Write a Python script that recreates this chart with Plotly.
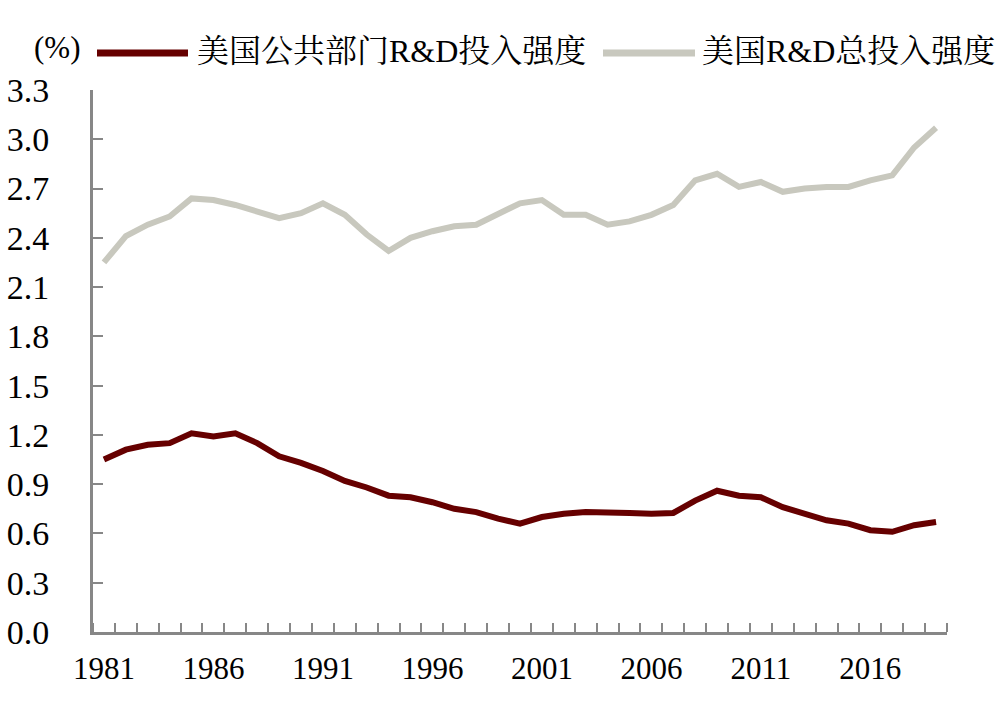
import plotly.graph_objects as go

years = list(range(1981, 2020))
public_rd = [1.05, 1.11, 1.14, 1.15, 1.21, 1.19, 1.21, 1.15, 1.07, 1.03,
             0.98, 0.92, 0.88, 0.83, 0.82, 0.79, 0.75, 0.73, 0.69, 0.66,
             0.70, 0.72, 0.73, 0.73, 0.725, 0.72, 0.725, 0.80, 0.86, 0.83,
             0.82, 0.76, 0.72, 0.68, 0.66, 0.62, 0.61, 0.65, 0.67]
total_rd = [2.25, 2.41, 2.48, 2.53, 2.64, 2.63, 2.60, 2.56, 2.52, 2.55,
            2.61, 2.54, 2.42, 2.32, 2.40, 2.44, 2.47, 2.48, 2.54, 2.61,
            2.63, 2.54, 2.54, 2.48, 2.50, 2.54, 2.60, 2.75, 2.79, 2.71,
            2.74, 2.68, 2.70, 2.71, 2.71, 2.75, 2.78, 2.95, 3.07]
x_labels = [1981, 1986, 1991, 1996, 2001, 2006, 2011, 2016]
y_ticks = [round(0.3 * i, 1) for i in range(12)]

name_public = "美国公共部门R&D投入强度"
name_total = "美国R&D总投入强度"
color_public = "#660000"
color_total = "#C8C8BE"

FONT = "Liberation Serif, Times New Roman, Noto Serif CJK SC, Noto Sans CJK SC, serif"
AXIS_COLOR = "#878787"

fig = go.Figure()
fig.add_trace(go.Scatter(x=years, y=public_rd, mode="lines", name=name_public,
                         line=dict(color=color_public, width=6)))
fig.add_trace(go.Scatter(x=years, y=total_rd, mode="lines", name=name_total,
                         line=dict(color=color_total, width=6)))

fig.update_layout(
    width=999, height=715,
    margin=dict(l=93, r=52, t=90, b=83),
    paper_bgcolor="white", plot_bgcolor="white",
    font=dict(family=FONT, size=31, color="black"),
    showlegend=False,
    xaxis=dict(range=[1980.5, 2019.5], tickmode="array", tickvals=x_labels,
               ticktext=[str(v) for v in x_labels], ticks="", showgrid=False,
               showline=True, linecolor=AXIS_COLOR, linewidth=3, zeroline=False,
               ticklabelstandoff=7, tickfont=dict(size=31), automargin=False,
               minor=dict(tickmode="linear", tick0=1980.5, dtick=1, ticks="inside",
                          ticklen=9, tickwidth=2, tickcolor=AXIS_COLOR, showgrid=False)),
    yaxis=dict(range=[0, 3.3], tickmode="array", tickvals=y_ticks,
               ticktext=[f"{v:.1f}" for v in y_ticks], ticks="inside", ticklen=10,
               tickwidth=2, tickcolor=AXIS_COLOR, showgrid=False, showline=True,
               linecolor=AXIS_COLOR, linewidth=3, zeroline=False,
               ticklabelstandoff=34, tickfont=dict(size=34), automargin=False),
)

# manual legend (paper coordinates of plot area: 854 x 542 px)
PW, PH = 854.0, 542.0
def px(xp):
    return (xp - 93) / PW
def py(yp):
    return (632 - yp) / PH

legend_items = [(name_public, color_public, 97, 188, 195),
                (name_total, color_total, 603, 695, 700)]
for name, color, x0, x1, xt in legend_items:
    fig.add_shape(type="line", xref="paper", yref="paper",
                  x0=px(x0), x1=px(x1), y0=py(53), y1=py(53),
                  line=dict(color=color, width=7))
    fig.add_annotation(text=name, xref="paper", yref="paper", x=px(xt), y=py(51),
                       xanchor="left", yanchor="middle", showarrow=False,
                       font=dict(size=32, family=FONT))

fig.add_annotation(text="(%)", xref="paper", yref="paper", x=px(57), y=py(48),
                   xanchor="center", yanchor="middle", showarrow=False,
                   font=dict(size=31, family=FONT))

fig.write_html("out.html", config={"displayModeBar": False},
               post_script="document.body.style.margin='0';")
